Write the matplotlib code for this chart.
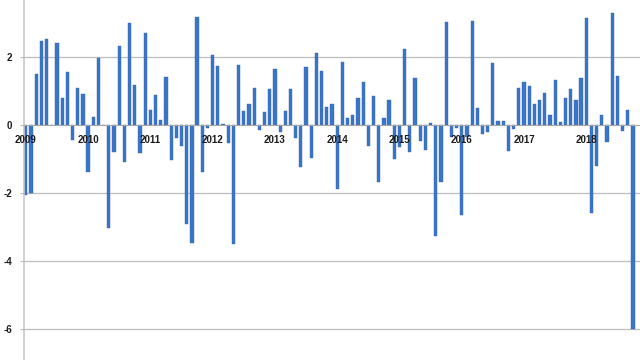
import matplotlib
matplotlib.use("Agg")
import matplotlib.pyplot as plt
import numpy as np

years = ["2009", "2010", "2011", "2012", "2013", "2014", "2015", "2016", "2017", "2018"]

v2009 = [-2.05, -2.0, 1.49, 2.47, 2.54, 0.0, 2.41, 0.81, 1.55, -0.44, 1.1, 0.91]
v2010 = [-1.37, 0.24, 1.98, 0.0, -3.02, -0.78, 2.32, -1.1, 3.0, 1.19, -0.83, 2.72]
v2011 = [0.44, 0.88, 0.14, 1.42, -1.04, -0.37, -0.61, -2.91, -3.48, 3.19, -1.38, -0.1]
v2012 = [2.05, 1.73, 0.03, -0.54, -3.49, 1.76, 0.41, 0.61, 1.1, -0.15, 0.38, 1.06]
v2013 = [1.65, -0.2, 0.42, 1.06, -0.37, -1.22, 1.71, -0.98, 2.12, 1.58, 0.52, 0.62]
v2014 = [-1.87, 1.85, 0.2, 0.29, 0.81, 1.27, -0.61, 0.86, -1.66, 0.2, 0.75, -1.0]
v2015 = [-0.63, 2.24, -0.78, 1.4, -0.46, -0.73, 0.07, -3.25, -1.66, 3.03, -0.34, -0.1]
v2016 = [-2.63, -0.34, 3.07, 0.49, -0.26, -0.2, 1.82, 0.13, 0.11, -0.75, -0.12, 1.1]
v2017 = [1.27, 1.14, 0.61, 0.73, 0.95, 0.29, 1.34, 0.1, 0.81, 1.07, 0.75, 1.4]
v2018 = [3.14, -2.59, -1.19, 0.31, -0.51, 3.3, 1.43, -0.17, 0.44, -6.0]

values = v2009 + v2010 + v2011 + v2012 + v2013 + v2014 + v2015 + v2016 + v2017 + v2018

ytick_values = [-6, -4, -2, 0, 2]
ytick_labels = ["-6", "-4", "-2", "0", "2"]

FONT = ["Liberation Sans", "DejaVu Sans"]

fig = plt.figure(figsize=(6.4, 3.6), dpi=100)
ax = fig.add_axes([23.5 / 640, 0, 1 - 23.5 / 640, 1])
ax.set_axisbelow(False)

for s in ["top", "right"]:
    ax.spines[s].set_visible(False)
ax.spines["bottom"].set_position(("data", 0))
ax.spines["bottom"].set_color("#a6a6a6")
ax.spines["left"].set_color("#c8c8c8")
ax.spines["left"].set_linewidth(1.2)

x = np.arange(len(values))
ax.bar(x, values, width=0.62, color="#3b76c6", edgecolor="#3266b3", linewidth=0.3, zorder=2)

ax.set_xlim(-0.45, 118.35)
ax.set_ylim(-6.91, 3.68)

for yv in ytick_values:
    if yv != 0:
        ax.axhline(yv, color="#bdbdbd", linewidth=0.9, zorder=1)

ax.set_yticks(ytick_values)
ax.set_yticklabels(ytick_labels, fontsize=7, fontweight="bold", family=FONT, color="#1a1a1a")
ax.set_xticks(np.arange(len(years)) * 12)
ax.set_xticklabels(years, fontsize=7, fontweight="bold", family=FONT, color="#1a1a1a")

ax.tick_params(axis="y", length=3, color="#bdbdbd", pad=5)
ax.tick_params(axis="x", length=0, pad=7)

fig.canvas.draw()
shown = [t.get_text() for t in ax.get_yticklabels() if t.get_visible()]
if "0" not in shown:
    raise RuntimeError("y labels shown: %r" % shown)

fig.savefig("out.png", dpi=100)
